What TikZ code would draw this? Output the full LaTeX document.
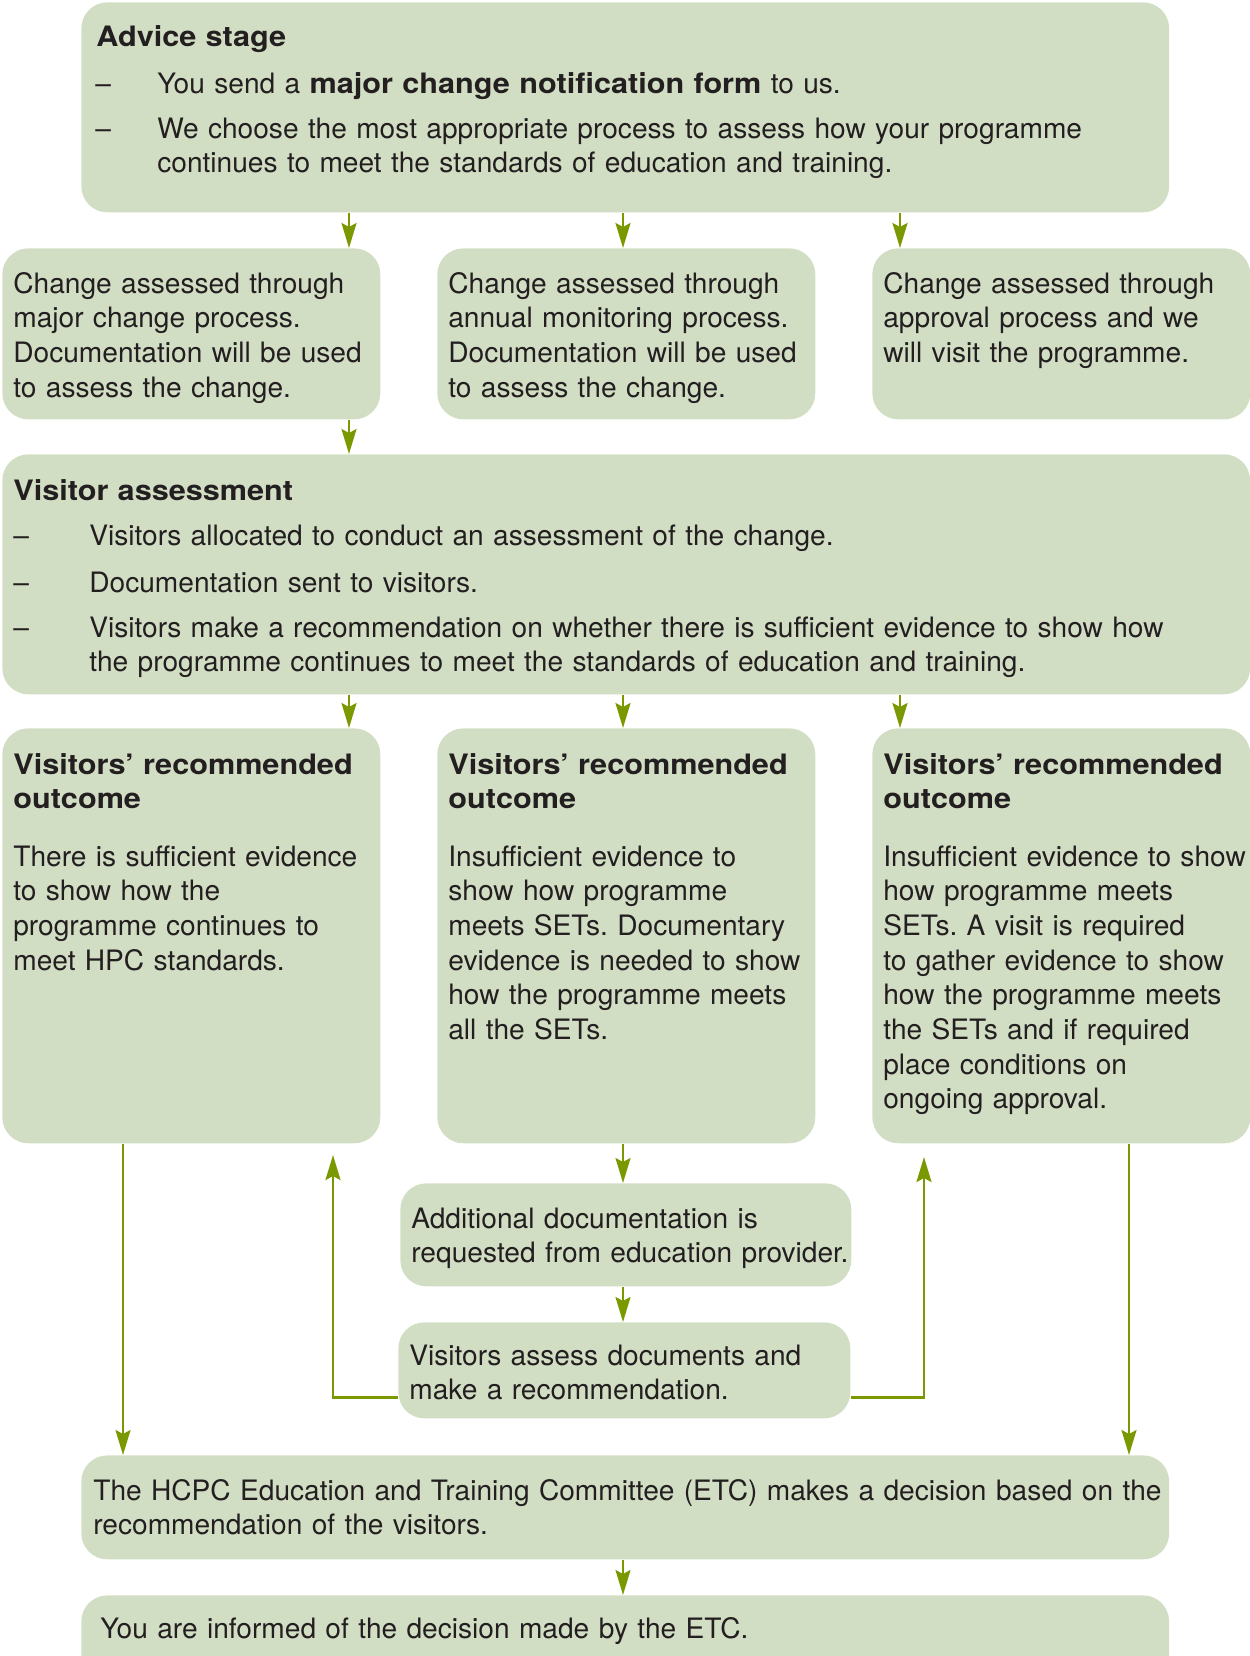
\documentclass[tikz,border=0pt]{standalone}
\usepackage{fontspec}
\setmainfont{TeX Gyre Heros}[BoldFeatures={FakeStretch=1.09}]
\usepackage{tikz}
\usetikzlibrary{arrows.meta,positioning}

\definecolor{boxgreen}{RGB}{210,222,196}
\definecolor{arrowgreen}{RGB}{122,153,0}
\definecolor{textgrey}{RGB}{35,31,32}

\tikzset{
  stagebox/.style={fill=boxgreen, rounded corners=0.52cm, anchor=north west, inner sep=0pt},
  boxtext/.style={anchor=base west, inner sep=0pt, text width=24cm, align=left, text=textgrey},
  flow/.style={draw=arrowgreen, line width=1.4pt, -{Stealth[length=0.5cm, width=0.3cm, inset=0.08cm]}},
}

\begin{document}
\frenchspacing
\begin{tikzpicture}[x=0.02cm, y=-0.02cm, font=\fontsize{16}{19.75}\selectfont]

\path[use as bounding box, clip] (0,0) rectangle (1250,1656);

% ===============================================================
% Boxes
% ===============================================================

\node[stagebox, minimum width=21.76cm, minimum height=4.2cm] (advice) at (81,2) {};

\node[stagebox, minimum width=7.56cm, minimum height=3.42cm] (chgA) at (2,248) {};
\node[stagebox, minimum width=7.56cm, minimum height=3.42cm] (chgB) at (437,248) {};
\node[stagebox, minimum width=7.56cm, minimum height=3.42cm] (chgC) at (872,248) {};

\node[stagebox, minimum width=24.96cm, minimum height=4.8cm] (visit) at (2,454) {};

\node[stagebox, minimum width=7.56cm, minimum height=8.3cm] (outA) at (2,728) {};
\node[stagebox, minimum width=7.56cm, minimum height=8.3cm] (outB) at (437,728) {};
\node[stagebox, minimum width=7.56cm, minimum height=8.3cm] (outC) at (872,728) {};

\node[stagebox, minimum width=9.02cm, minimum height=2.06cm] (adddoc) at (400,1183) {};
\node[stagebox, minimum width=9.04cm, minimum height=1.92cm] (assess) at (398,1322) {};

\node[stagebox, minimum width=21.76cm, minimum height=2.08cm] (etc) at (81,1455) {};
\node[stagebox, minimum width=21.76cm, minimum height=2.4cm] (inform) at (81,1595) {};

% ===============================================================
% Texts
% ===============================================================

% advice stage
\node[boxtext] (advhead) at (96,47) {\bfseries Advice stage};
\node[boxtext] (advdashA) at (95,93) {--};
\node[boxtext] (advitemA) at (157,93) {You send a \textbf{major change notification form} to us.};
\node[boxtext] (advdashB) at (95,138) {--};
\node[boxtext] (advitemB) at (157,138) {We choose the most appropriate process to assess how your programme\\
  continues to meet the standards of education and training.};

% three routes
\node[boxtext] (chgtxtA) at (13,293) {Change assessed through\\ major change process.\\ Documentation will be used\\ to assess the change.};
\node[boxtext] (chgtxtB) at (448,293) {Change assessed through\\ annual monitoring process.\\ Documentation will be used\\ to assess the change.};
\node[boxtext] (chgtxtC) at (883,293) {Change assessed through\\ approval process and we\\ will visit the programme.};

% visitor assessment
\node[boxtext] (vishead) at (13,500) {\bfseries Visitor assessment};
\node[boxtext] (visdashA) at (13,545) {--};
\node[boxtext] (visitemA) at (89,545) {Visitors allocated to conduct an assessment of the change.};
\node[boxtext] (visdashB) at (13,592) {--};
\node[boxtext] (visitemB) at (89,592) {Documentation sent to visitors.};
\node[boxtext] (visdashC) at (13,637) {--};
\node[boxtext] (visitemC) at (89,637) {Visitors make a recommendation on whether there is sufficient evidence to show how\\
  the programme continues to meet the standards of education and training.};

% recommended outcomes
\node[boxtext] (outheadA) at (13,774) {\bfseries Visitors’ recommended\\ outcome};
\node[boxtext] (outheadB) at (448,774) {\bfseries Visitors’ recommended\\ outcome};
\node[boxtext] (outheadC) at (883,774) {\bfseries Visitors’ recommended\\ outcome};

\node[boxtext] (outtxtA) at (13,866) {There is sufficient evidence\\ to show how the\\ programme continues to\\ meet HPC standards.};
\node[boxtext] (outtxtB) at (448,866) {Insufficient evidence to\\ show how programme\\ meets SETs. Documentary\\ evidence is needed to show\\ how the programme meets\\ all the SETs.};
\node[boxtext] (outtxtC) at (883,866) {Insufficient evidence to show\\ how programme meets\\ SETs. A visit is required\\ to gather evidence to show\\ how the programme meets\\ the SETs and if required\\ place conditions on\\ ongoing approval.};

% documents loop
\node[boxtext] (adddoctxt) at (411,1228) {Additional documentation is\\ requested from education provider.};
\node[boxtext] (assesstxt) at (409,1365) {Visitors assess documents and\\ make a recommendation.};

% decision
\node[boxtext] (etctxt) at (93,1500) {The HCPC Education and Training Committee (ETC) makes a decision based on the\\ recommendation of the visitors.};
\node[boxtext] (informtxt) at (100,1638) {You are informed of the decision made by the ETC.};

% ===============================================================
% Arrows
% ===============================================================

\coordinate (colA) at (349,0);
\coordinate (colB) at (623,0);
\coordinate (colC) at (900,0);
\coordinate (colL) at (123,0);
\coordinate (colR) at (1129,0);
\coordinate (loopL) at (333,1155);
\coordinate (loopR) at (924,1157);

\draw[flow] (advice.south -| colA) -- (chgA.north -| colA);
\draw[flow] (advice.south -| colB) -- (chgB.north -| colB);
\draw[flow] (advice.south -| colC) -- (chgC.north -| colC);

\draw[flow] (chgA.south -| colA) -- (visit.north -| colA);

\draw[flow] (visit.south -| colA) -- (outA.north -| colA);
\draw[flow] (visit.south -| colB) -- (outB.north -| colB);
\draw[flow] (visit.south -| colC) -- (outC.north -| colC);

\draw[flow] (outB.south -| colB) -- (adddoc.north -| colB);
\draw[flow] (adddoc.south -| colB) -- (assess.north -| colB);

\draw[flow] ([yshift=0.42cm]assess.south west) -| (loopL);
\draw[flow] ([yshift=0.42cm]assess.south east) -| (loopR);

\draw[flow] (outA.south -| colL) -- (etc.north -| colL);
\draw[flow] (outC.south -| colR) -- (etc.north -| colR);

\draw[flow] (etc.south -| colB) -- (inform.north -| colB);

\end{tikzpicture}
\end{document}
